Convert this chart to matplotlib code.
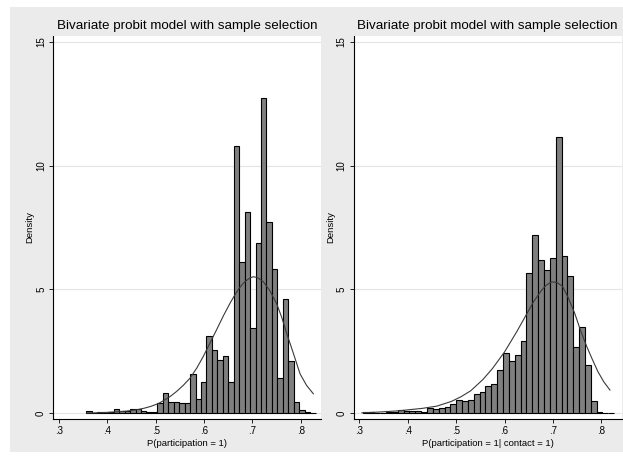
import numpy as np
import matplotlib.pyplot as plt
from matplotlib.patches import Rectangle

plt.rcParams['font.family'] = ['Liberation Sans', 'DejaVu Sans']

# histogram: P(participation = 1)
left_start = 0.3568
left_width = 0.01128
left_dens = [0.07, 0.0, 0.03, 0.0, 0.04, 0.16, 0.08, 0.10, 0.16, 0.15,
             0.08, 0.05, 0.03, 0.40, 0.81, 0.45, 0.45, 0.40, 0.40, 1.59,
             0.58, 1.25, 3.13, 2.56, 2.13, 2.29, 1.25, 10.81, 6.10, 8.12,
             3.44, 6.88, 12.73, 7.72, 5.83, 1.42, 4.63, 2.12, 0.45, 0.13,
             0.04, 0.02]
# overlaid density curve
left_cx = [0.357, 0.38, 0.40, 0.42, 0.44, 0.46, 0.475, 0.49, 0.505, 0.516,
           0.53, 0.543, 0.557, 0.571, 0.585, 0.5985, 0.612, 0.626, 0.64,
           0.654, 0.663, 0.671, 0.679, 0.687, 0.695, 0.702, 0.71, 0.7226,
           0.736, 0.75, 0.761, 0.771, 0.785, 0.7985, 0.812, 0.826]
left_cy = [0.0, 0.01, 0.03, 0.05, 0.08, 0.13, 0.19, 0.27, 0.38, 0.50,
           0.67, 0.87, 1.12, 1.41, 1.82, 2.29, 2.82, 3.37, 3.93,
           4.45, 4.75, 5.0, 5.2, 5.35, 5.46, 5.51, 5.48, 5.31,
           4.95, 4.43, 3.85, 3.22, 2.40, 1.59, 1.12, 0.78]

# histogram: P(participation = 1| contact = 1)
right_start = 0.3065
right_width = 0.0121
right_dens = [0.03, 0.04, 0.02, 0.02, 0.03, 0.03, 0.12, 0.07, 0.09, 0.08,
              0.05, 0.19, 0.16, 0.19, 0.25, 0.37, 0.53, 0.48, 0.52, 0.77,
              0.84, 1.09, 1.17, 1.74, 2.44, 2.11, 2.35, 2.92, 5.67, 7.18,
              6.20, 5.80, 6.28, 11.16, 6.33, 5.54, 2.69, 3.49, 1.96, 0.47,
              0.05, 0.02, 0.02]
right_cx = [0.305, 0.34, 0.38, 0.41, 0.43, 0.46, 0.49, 0.51, 0.53, 0.555,
            0.575, 0.60, 0.625, 0.65, 0.66, 0.675, 0.685, 0.697, 0.708, 0.72,
            0.732, 0.745, 0.757, 0.77, 0.782, 0.793, 0.805, 0.818]
right_cy = [0.01, 0.04, 0.09, 0.15, 0.19, 0.28, 0.47, 0.66, 0.90, 1.35,
            1.80, 2.47, 3.28, 4.15, 4.50, 4.92, 5.15, 5.30, 5.28, 5.12,
            4.65, 4.04, 3.35, 2.69, 2.15, 1.68, 1.27, 0.93]

xticks = [0.3, 0.4, 0.5, 0.6, 0.7, 0.8]
xticklabels = ['.3', '.4', '.5', '.6', '.7', '.8']
yticks = [0, 5, 10, 15]
title = 'Bivariate probit model with sample selection'

W, H = 623, 458
fig = plt.figure(figsize=(W / 100, H / 100), dpi=100, facecolor='white')
fig.patches.append(Rectangle((10 / W, 1 - 452 / H), 613 / W, 445 / H,
                             transform=fig.transFigure, facecolor='#ebebeb',
                             edgecolor='none', zorder=-10))


def panel(x0, start, width, dens, cx, cy, xlabel):
    ax = fig.add_axes([x0 / W, 1 - 419 / H, 268 / W, 383 / H])
    ax.set_facecolor('white')
    for y in yticks:
        ax.axhline(y, color='#e4e4e4', lw=0.8, zorder=0)
    edges = start + width * np.arange(len(dens))
    ax.bar(edges, dens, width=width, align='edge', color='#7f7f7f',
           edgecolor='black', linewidth=0.8, zorder=2)
    ax.plot(cx, cy, color='#3a3a3a', lw=0.8, zorder=3)
    ax.set_xlim(0.2876, 0.8419)
    ax.set_ylim(-0.24, 15.24)
    ax.set_xticks(xticks)
    ax.set_xticklabels(xticklabels)
    ax.set_yticks(yticks)
    ax.set_yticklabels([str(v) for v in yticks], rotation=90, va='center')
    ax.tick_params(direction='out', length=3, width=0.6, labelsize=7,
                   pad=2, colors='black')
    for s in ['top', 'right']:
        ax.spines[s].set_visible(False)
    for s in ['left', 'bottom']:
        ax.spines[s].set_linewidth(0.8)
    ax.set_xlabel(xlabel, fontsize=6.8, labelpad=2)
    ax.set_ylabel('Density', fontsize=6.8, labelpad=1)
    ax.set_title(title, fontsize=9.6, pad=5)
    return ax


panel(53, left_start, left_width, left_dens, left_cx, left_cy,
      'P(participation = 1)')
panel(353.5, right_start, right_width, right_dens, right_cx, right_cy,
      'P(participation = 1| contact = 1)')

fig.savefig('out.png', dpi=100)
